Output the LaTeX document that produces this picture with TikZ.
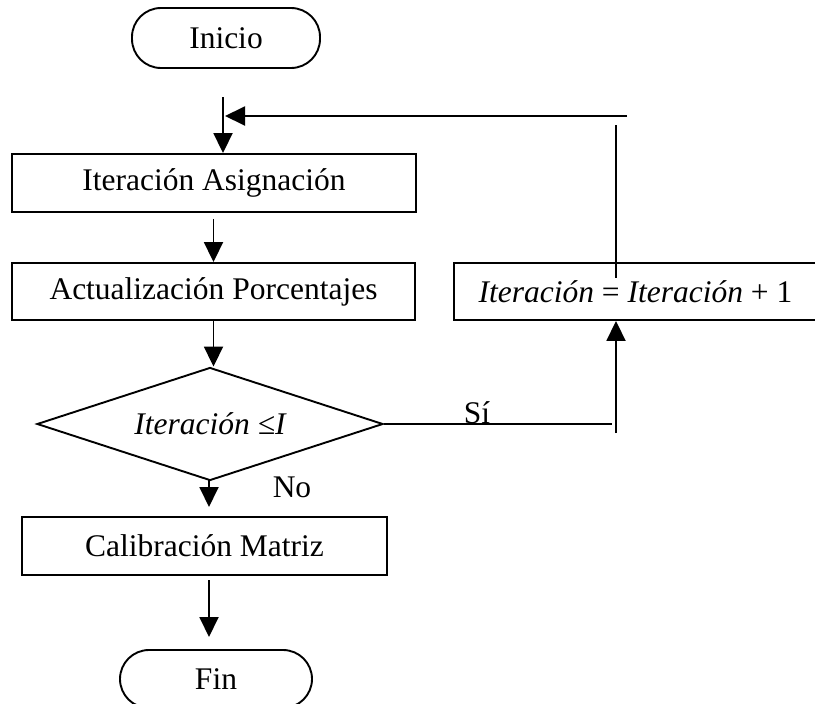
\documentclass[tikz,border=0pt]{standalone}
\usepackage{fontspec}
\setmainfont{Liberation Serif}
\usetikzlibrary{shapes.geometric,arrows.meta}
\begin{document}
\begin{tikzpicture}[x=1pt,y=-1pt,
  every node/.style={font=\fontsize{31.5}{36}\selectfont, inner sep=0pt},
  proc/.style={draw, line width=1.9pt, rectangle},
  term/.style={draw, line width=1.9pt, rectangle, rounded corners=29pt},
  decis/.style={draw, line width=1.9pt, diamond, aspect=3.06, minimum width=346pt, minimum height=113pt},
  arr/.style={line width=1.9pt, -{Triangle[length=20pt,width=19pt]}},
  ln/.style={line width=1.9pt}]
\useasboundingbox (0,0) rectangle (815,704);
% nodes
\node[term, minimum width=188pt, minimum height=60pt] (ini) at (226,38) {Inicio};
\node[proc, minimum width=404pt, minimum height=58pt] (ia) at (214,183) {Iteración Asignación};
\node[proc, minimum width=403pt, minimum height=57pt] (act) at (213.5,291.5) {Actualización Porcentajes};
\node[proc, minimum width=363pt, minimum height=57pt] (inc) at (635.5,291.5) {\itshape Iteración\upshape{} = \itshape Iteración\upshape{} + 1};
\node[decis] (dec) at (210,424) {\itshape Iteración ≤I};
\node[proc, minimum width=365pt, minimum height=58pt] (cal) at (204.5,546) {Calibración Matriz};
\node[term, minimum width=192pt, minimum height=58pt] (fin) at (216,679) {Fin};
\node[anchor=base] (si) at (477,423.5) {Sí};
\node[anchor=base] (no) at (292,497) {No};
% coordinates for loop
\coordinate (topin) at (223,97);
\coordinate (loopR) at (627,116);
\coordinate (loopL) at (225,116);
\coordinate (upT) at (616,125);
\coordinate (upB) at (616,278);
\coordinate (siEnd) at (612,424);
\coordinate (upS) at (616,433);
% connectors
\draw[arr] (topin) -- (topin |- ia.north);
\draw[arr] (loopR) -- (loopL);
\draw[ln] (upT) -- (upB);
\draw[arr, shorten <=6pt] (ia.south -| act.north) -- (act.north);
\draw[arr] (act.south) -- (act.south |- dec.north);
\draw[ln] (dec.east) -- (siEnd);
\draw[arr] (upS) -- (upS |- inc.south);
\coordinate (decB) at (209,480);
\coordinate (calT) at (209,507);
\draw[arr] (decB) -- (calT);
\coordinate (calB) at (209,580);
\coordinate (finT) at (209,637);
\draw[arr] (calB) -- (finT);
\end{tikzpicture}
\end{document}
